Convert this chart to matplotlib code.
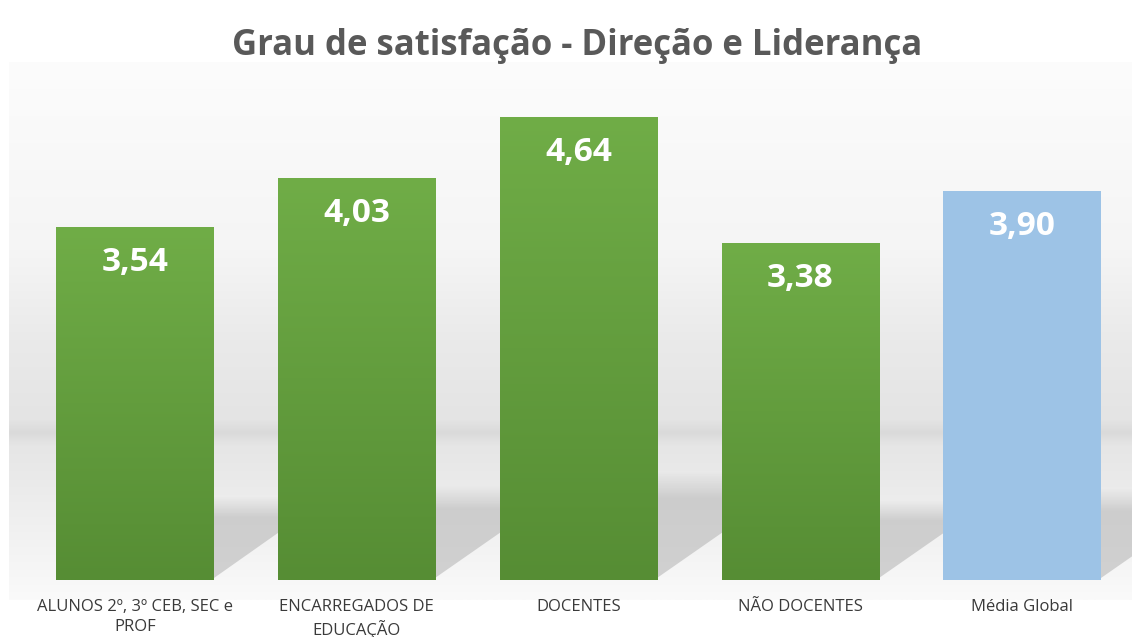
import numpy as np
import matplotlib
matplotlib.use("Agg")
import matplotlib.pyplot as plt
from matplotlib.patches import Polygon

# donnees
categories = ["ALUNOS 2º, 3º CEB, SEC e\nPROF", "ENCARREGADOS DE\nEDUCAÇÃO",
              "DOCENTES", "NÃO DOCENTES", "Média Global"]
valeurs = [3.54, 4.03, 4.64, 3.38, 3.90]
etiquettes = ["3,54", "4,03", "4,64", "3,38", "3,90"]
titre = "Grau de satisfação - Direção e Liderança"

plt.rcParams["font.family"] = ["Open Sans", "DejaVu Sans"]

W, H = 1132, 637
fig = plt.figure(figsize=(W / 100, H / 100), dpi=100)

# fond degrade de la zone de trace (mur + sol)
fond = fig.add_axes([9 / W, 1 - 600 / H, 1 - 9 / W, (600 - 62) / H], zorder=0)
ys = np.array([62, 250, 340, 420, 433, 446, 480, 540, 600])
gris = np.array([252, 245, 234, 228, 218, 230, 234, 242, 250])
yy = np.arange(62, 601)
col = np.interp(yy, ys, gris) / 255.0
img = np.repeat(col[:, None], 2, axis=1)
img = np.stack([img, img, img], axis=-1)
fond.imshow(img, aspect="auto", extent=[0, 1, 0, 1], origin="upper")
fond.axis("off")

ax = fig.add_axes([24 / W, 1 - 580 / H, 1109 / W, 499 / H], zorder=1)
ax.patch.set_alpha(0)
x = np.arange(len(valeurs))
largeur = 0.71
ax.set_xlim(-0.5, 4.5)
ax.set_ylim(0, 5)

# ombres portees a droite des barres, bord haut adouci
rampe = np.linspace(0, 1, 64)[:, None]
img_ombre = np.ones((64, 2, 4))
img_ombre[..., :3] = 0.70
img_ombre[..., 3] = (0.55 * np.clip(rampe * 4, 0, 1)) * np.ones((1, 2))
for i, v in enumerate(valeurs):
    xr = x[i] + largeur / 2
    h = 0.235 * v
    ombre = Polygon([(xr, 0.02), (xr, h), (xr + 0.4, h), (xr + 0.4, 0.4 * 1.6)],
                    closed=True, facecolor="none", edgecolor="none")
    ax.add_patch(ombre)
    im = ax.imshow(img_ombre, aspect="auto", zorder=1,
                   extent=[xr, xr + 0.4, 0, h], origin="upper")
    im.set_clip_path(ombre)

barres = ax.bar(x, valeurs, width=largeur, color=["#6aa845"] * 4 + ["#9dc3e6"], zorder=2)

# degrade vertical sur les barres vertes
grad = np.linspace(0, 1, 256)[:, None]
haut = np.array([112, 173, 71]) / 255.0
bas = np.array([86, 141, 52]) / 255.0
img_vert = (haut[None, :] * (1 - grad) + bas[None, :] * grad)[:, None, :]
for b in barres[:4]:
    im = ax.imshow(img_vert, aspect="auto", zorder=3,
                   extent=[b.get_x(), b.get_x() + b.get_width(), 0, b.get_height()],
                   origin="upper")
    im.set_clip_path(b)

for i, v in enumerate(valeurs):
    ax.annotate(etiquettes[i], xy=(x[i], v), xytext=(0, -25.5), textcoords="offset points",
                ha="center", va="center", color="white", fontsize=24, fontweight="bold", zorder=4)

ax.set_xticks(x)
ax.set_xticklabels(categories, fontsize=12, color="#3a3a3a", linespacing=1.3)
ax.tick_params(axis="x", length=0, pad=14)
ax.set_yticks([])
for s in ax.spines.values():
    s.set_visible(False)

fig.text(577 / W, 1 - 55 / H, titre, ha="center", va="baseline",
         fontsize=25, fontweight="bold", color="#595959")

fig.savefig("out.png", dpi=100)
